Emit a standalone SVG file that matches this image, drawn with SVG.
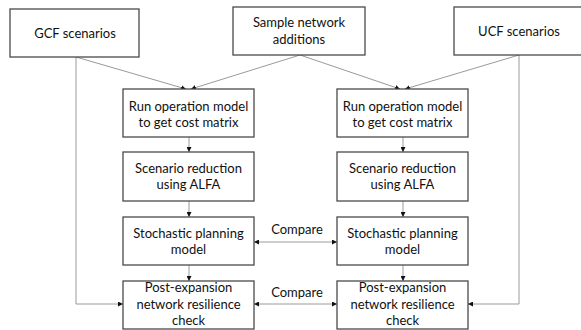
<svg xmlns="http://www.w3.org/2000/svg" width="581" height="330" viewBox="0 0 581 330">
<style>
.box{fill:#fff;stroke:#4a4a4a;stroke-width:1.3}
.t{font-family:Lato,"Liberation Sans",sans-serif;font-size:13px;fill:#111;text-anchor:middle}
.c{fill:none;stroke:#9a9a9a;stroke-width:1}
</style>
<defs>
<marker id="ah" viewBox="0 0 6 6" refX="6" refY="3" markerWidth="5" markerHeight="5" orient="auto-start-reverse" markerUnits="userSpaceOnUse">
<path d="M0,0 L6,3 L0,6 Z" fill="#111"/>
</marker>
</defs>
<rect width="581" height="330" fill="#fff"/>
<g id="connectors">
<path class="c" d="M76,57 L186,89" marker-end="url(#ah)"/>
<path class="c" d="M300,55 L191,89" marker-end="url(#ah)"/>
<path class="c" d="M300,55 L400,89" marker-end="url(#ah)"/>
<path class="c" d="M519,55 L405,89" marker-end="url(#ah)"/>
<path class="c" d="M189,137 L189,152" marker-end="url(#ah)"/>
<path class="c" d="M189,201 L189,217" marker-end="url(#ah)"/>
<path class="c" d="M189,265 L189,281" marker-end="url(#ah)"/>
<path class="c" d="M403,137 L403,152" marker-end="url(#ah)"/>
<path class="c" d="M403,201 L403,217" marker-end="url(#ah)"/>
<path class="c" d="M403,265 L403,281" marker-end="url(#ah)"/>
<path class="c" d="M76,57 L76,304 L123,304" marker-end="url(#ah)"/>
<path class="c" d="M519,55 L519,304 L468,304" marker-end="url(#ah)"/>
<path class="c" d="M254,242 L337,242" marker-start="url(#ah)" marker-end="url(#ah)"/>
<path class="c" d="M254,304 L337,304" marker-start="url(#ah)" marker-end="url(#ah)"/>
<text class="t" x="297" y="234">Compare</text>
<text class="t" x="297" y="297">Compare</text>
</g>
<g id="gcf"><rect class="box" x="10" y="9" width="129" height="48"/><text class="t" x="75" y="38">GCF scenarios</text></g>
<g id="sample"><rect class="box" x="233" y="7" width="132" height="48"/><text class="t" x="299" y="27">Sample network</text><text class="t" x="299" y="44">additions</text></g>
<g id="ucf"><rect class="box" x="454" y="7" width="130" height="48"/><text class="t" x="519" y="36">UCF scenarios</text></g>
<g id="run-left"><rect class="box" x="123" y="89" width="131" height="48"/><text class="t" x="188.5" y="111">Run operation model</text><text class="t" x="188.5" y="127">to get cost matrix</text></g>
<g id="run-right"><rect class="box" x="337" y="89" width="131" height="48"/><text class="t" x="402.5" y="111">Run operation model</text><text class="t" x="402.5" y="127">to get cost matrix</text></g>
<g id="red-left"><rect class="box" x="123" y="152" width="131" height="49"/><text class="t" x="188.5" y="173">Scenario reduction</text><text class="t" x="188.5" y="189">using ALFA</text></g>
<g id="red-right"><rect class="box" x="337" y="152" width="131" height="49"/><text class="t" x="402.5" y="173">Scenario reduction</text><text class="t" x="402.5" y="189">using ALFA</text></g>
<g id="sto-left"><rect class="box" x="123" y="217" width="131" height="48"/><text class="t" x="188.5" y="238">Stochastic planning</text><text class="t" x="188.5" y="254">model</text></g>
<g id="sto-right"><rect class="box" x="337" y="217" width="131" height="48"/><text class="t" x="402.5" y="238">Stochastic planning</text><text class="t" x="402.5" y="254">model</text></g>
<g id="post-left"><rect class="box" x="123" y="281" width="131" height="48"/><text class="t" x="188.5" y="292">Post-expansion</text><text class="t" x="188.5" y="309">network resilience</text><text class="t" x="188.5" y="325">check</text></g>
<g id="post-right"><rect class="box" x="337" y="281" width="131" height="48"/><text class="t" x="402.5" y="292">Post-expansion</text><text class="t" x="402.5" y="309">network resilience</text><text class="t" x="402.5" y="325">check</text></g>
</svg>
